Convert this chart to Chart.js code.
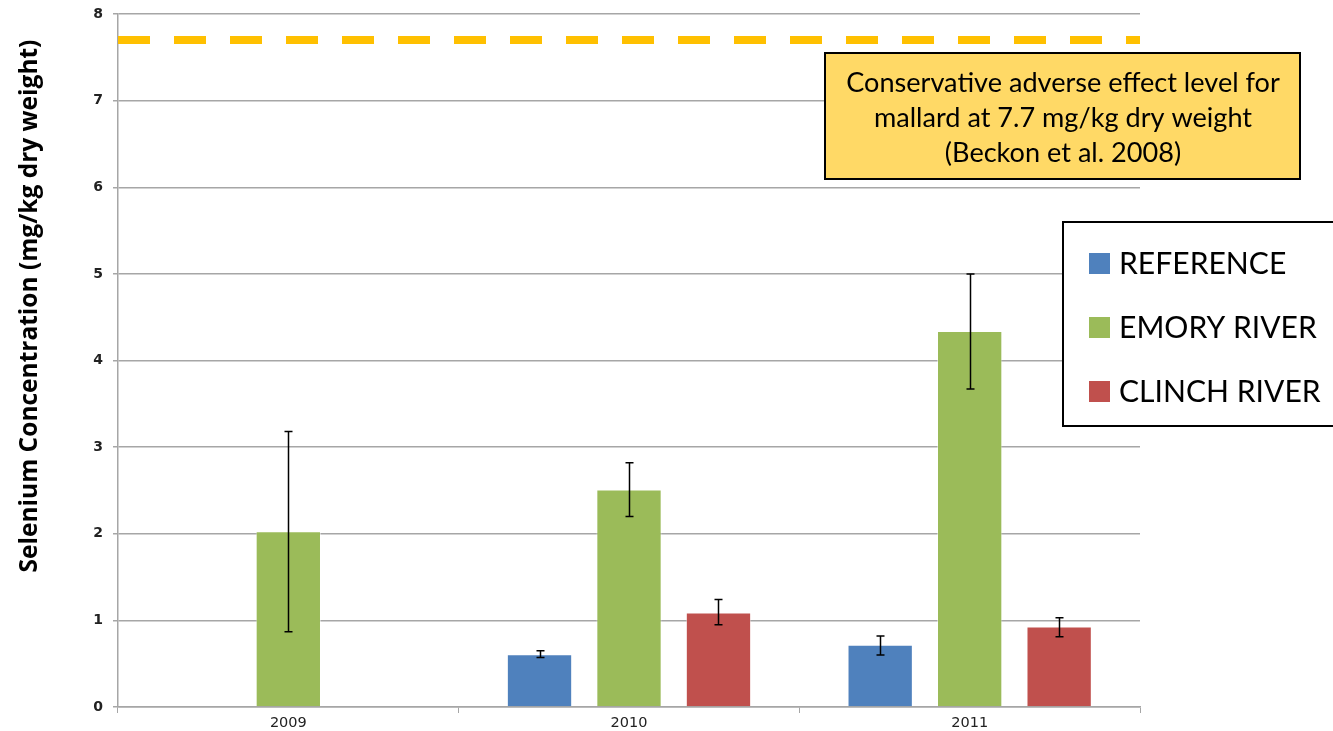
<!DOCTYPE html>
<html>
<head>
<meta charset="utf-8">
<title>Selenium Concentration</title>
<script src="https://cdn.jsdelivr.net/npm/chart.js@4.4.1/dist/chart.umd.min.js"></script>
<style>
  html, body { margin: 0; padding: 0; background: #ffffff; }
  #wrap { width: 1333px; height: 731px; position: relative; }
</style>
</head>
<body>
<div id="wrap"><canvas id="chart" width="1333" height="731"></canvas></div>
<script>
// =========================================================
// DATA
// Mean selenium per year and site, with the low / high ends
// of each error bar. null = no sample that year.
// =========================================================
const years = ["2009", "2010", "2011"];
const seriesNames = ["REFERENCE", "EMORY RIVER", "CLINCH RIVER"];

const referenceMean = [null, 0.61, 0.72];
const emoryMean = [2.03, 2.51, 4.34];
const clinchMean = [null, 1.09, 0.93];

const referenceLow = [null, 0.57, 0.60];
const referenceHigh = [null, 0.65, 0.82];
const emoryLow = [0.87, 2.20, 3.67];
const emoryHigh = [3.18, 2.82, 5.00];
const clinchLow = [null, 0.95, 0.81];
const clinchHigh = [null, 1.24, 1.03];

const yTicks = [0, 1, 2, 3, 4, 5, 6, 7, 8];

// mallard threshold (mg/kg dry weight)
const adverseLevel = 7.7;
const noteLines = [
  "Conservative adverse effect level for",
  "mallard at 7.7 mg/kg dry weight",
  "(Beckon et al. 2008)",
];
const yTitle = "Selenium Concentration (mg/kg dry weight)";

const COLORS = ["#4F81BD", "#9BBB59", "#C0504D"];
const GRID = "#a6a6a6";

// error bar ranges, same order as the datasets
const errorRanges = [
  { low: referenceLow, high: referenceHigh },
  { low: emoryLow, high: emoryHigh },
  { low: clinchLow, high: clinchHigh },
];

// pick a font size so `text` comes out about `width` px wide
function fitFont(ctx, text, width, weight, family) {
  ctx.font = weight + " 20px " + family;
  const size = 20 * width / ctx.measureText(text).width;
  ctx.font = weight + " " + size.toFixed(1) + "px " + family;
}

// =========================================================
// PLUGIN: dashed threshold line across the plot
// =========================================================
const thresholdLine = {
  id: "thresholdLine",
  afterDatasetsDraw(chart) {
    const { ctx, chartArea, scales } = chart;
    const y = scales.y.getPixelForValue(adverseLevel);
    ctx.save();
    ctx.strokeStyle = "#FFC000";
    ctx.lineWidth = 8;
    ctx.setLineDash([32, 24]);
    ctx.beginPath();
    ctx.moveTo(chartArea.left, y);
    ctx.lineTo(chartArea.right, y);
    ctx.stroke();
    ctx.restore();
  },
};

// =========================================================
// PLUGIN: error bars on top of each bar
// =========================================================
const errorBars = {
  id: "errorBars",
  afterDatasetsDraw(chart) {
    const { ctx, scales } = chart;
    ctx.save();
    ctx.strokeStyle = "#000000";
    ctx.lineWidth = 1.5;
    chart.data.datasets.forEach((ds, i) => {
      const meta = chart.getDatasetMeta(i);
      meta.data.forEach((bar, j) => {
        const lo = errorRanges[i].low[j];
        const hi = errorRanges[i].high[j];
        if (lo === null || hi === null) return;
        const x = Math.round(bar.x) + 0.5;
        const yLo = scales.y.getPixelForValue(lo);
        const yHi = scales.y.getPixelForValue(hi);
        ctx.beginPath();
        ctx.moveTo(x, yLo);
        ctx.lineTo(x, yHi);
        ctx.moveTo(x - 4, yLo);
        ctx.lineTo(x + 4, yLo);
        ctx.moveTo(x - 4, yHi);
        ctx.lineTo(x + 4, yHi);
        ctx.stroke();
      });
    });
    ctx.restore();
  },
};

// =========================================================
// PLUGIN: note box, boxed legend and rotated axis title
// =========================================================
const decorations = {
  id: "decorations",
  afterDraw(chart) {
    const ctx = chart.ctx;
    ctx.save();

    // note box
    ctx.fillStyle = "#FFD966";
    ctx.fillRect(825, 53, 475, 126);
    ctx.strokeStyle = "#000000";
    ctx.lineWidth = 2;
    ctx.strokeRect(825, 53, 475, 126);
    ctx.fillStyle = "#000000";
    fitFont(ctx, noteLines[0], 434, "normal", "Lato");
    ctx.textAlign = "center";
    ctx.textBaseline = "middle";
    noteLines.forEach((line, k) => {
      ctx.fillText(line, 1063, 83 + k * 35);
    });

    // legend box
    ctx.fillStyle = "#ffffff";
    ctx.fillRect(1063, 222, 272, 204);
    ctx.strokeRect(1063, 222, 272, 204);
    fitFont(ctx, seriesNames[1], 198, "normal", "Lato");
    ctx.textAlign = "left";
    chart.data.datasets.forEach((ds, i) => {
      const cy = 263 + i * 64;
      ctx.fillStyle = ds.backgroundColor;
      ctx.fillRect(1089, cy - 10, 21, 21);
      ctx.fillStyle = "#000000";
      ctx.fillText(ds.label, 1119, cy + 1);
    });

    // y-axis title
    ctx.translate(30, 306);
    ctx.rotate(-Math.PI / 2);
    fitFont(ctx, yTitle, 532, "bold", "'Open Sans'");
    ctx.textAlign = "center";
    ctx.fillStyle = "#000000";
    ctx.fillText(yTitle, 0, 0);

    ctx.restore();
  },
};

const datasets = [referenceMean, emoryMean, clinchMean].map((values, i) => ({
  label: seriesNames[i],
  data: values,
  backgroundColor: COLORS[i],
  borderColor: "rgba(255,255,255,0.45)",
  borderWidth: 1,
  categoryPercentage: 0.788,
  barPercentage: 0.73,
}));

new Chart(document.getElementById("chart"), {
  type: "bar",
  data: { labels: years, datasets: datasets },
  options: {
    responsive: false,
    animation: false,
    layout: { padding: { top: 14, right: 193, bottom: 0, left: 0 } },
    plugins: {
      legend: { display: false },
      tooltip: { enabled: false },
    },
    scales: {
      x: {
        afterFit: (scale) => { scale.height = 24; },
        grid: {
          display: true,
          drawOnChartArea: false,
          drawTicks: true,
          tickLength: 6,
          color: GRID,
          offset: true,
        },
        border: { color: GRID, width: 1.5 },
        ticks: {
          color: "#222222",
          font: { family: "DejaVu Sans", size: 14.5 },
          padding: 2,
        },
      },
      y: {
        min: 0,
        max: 8,
        afterFit: (scale) => {
          scale.width = 118;
          scale.paddingTop = 0;
          scale.paddingBottom = 0;
        },
        afterBuildTicks: (scale) => {
          scale.ticks = yTicks.map((v) => ({ value: v }));
        },
        grid: { color: GRID, lineWidth: 1.5, tickLength: 5 },
        border: { color: GRID, width: 1.5 },
        ticks: {
          color: "#222222",
          font: { family: "DejaVu Sans", size: 14, weight: "bold" },
          padding: 10,
        },
      },
    },
  },
  plugins: [thresholdLine, errorBars, decorations],
});
</script>
</body>
</html>
